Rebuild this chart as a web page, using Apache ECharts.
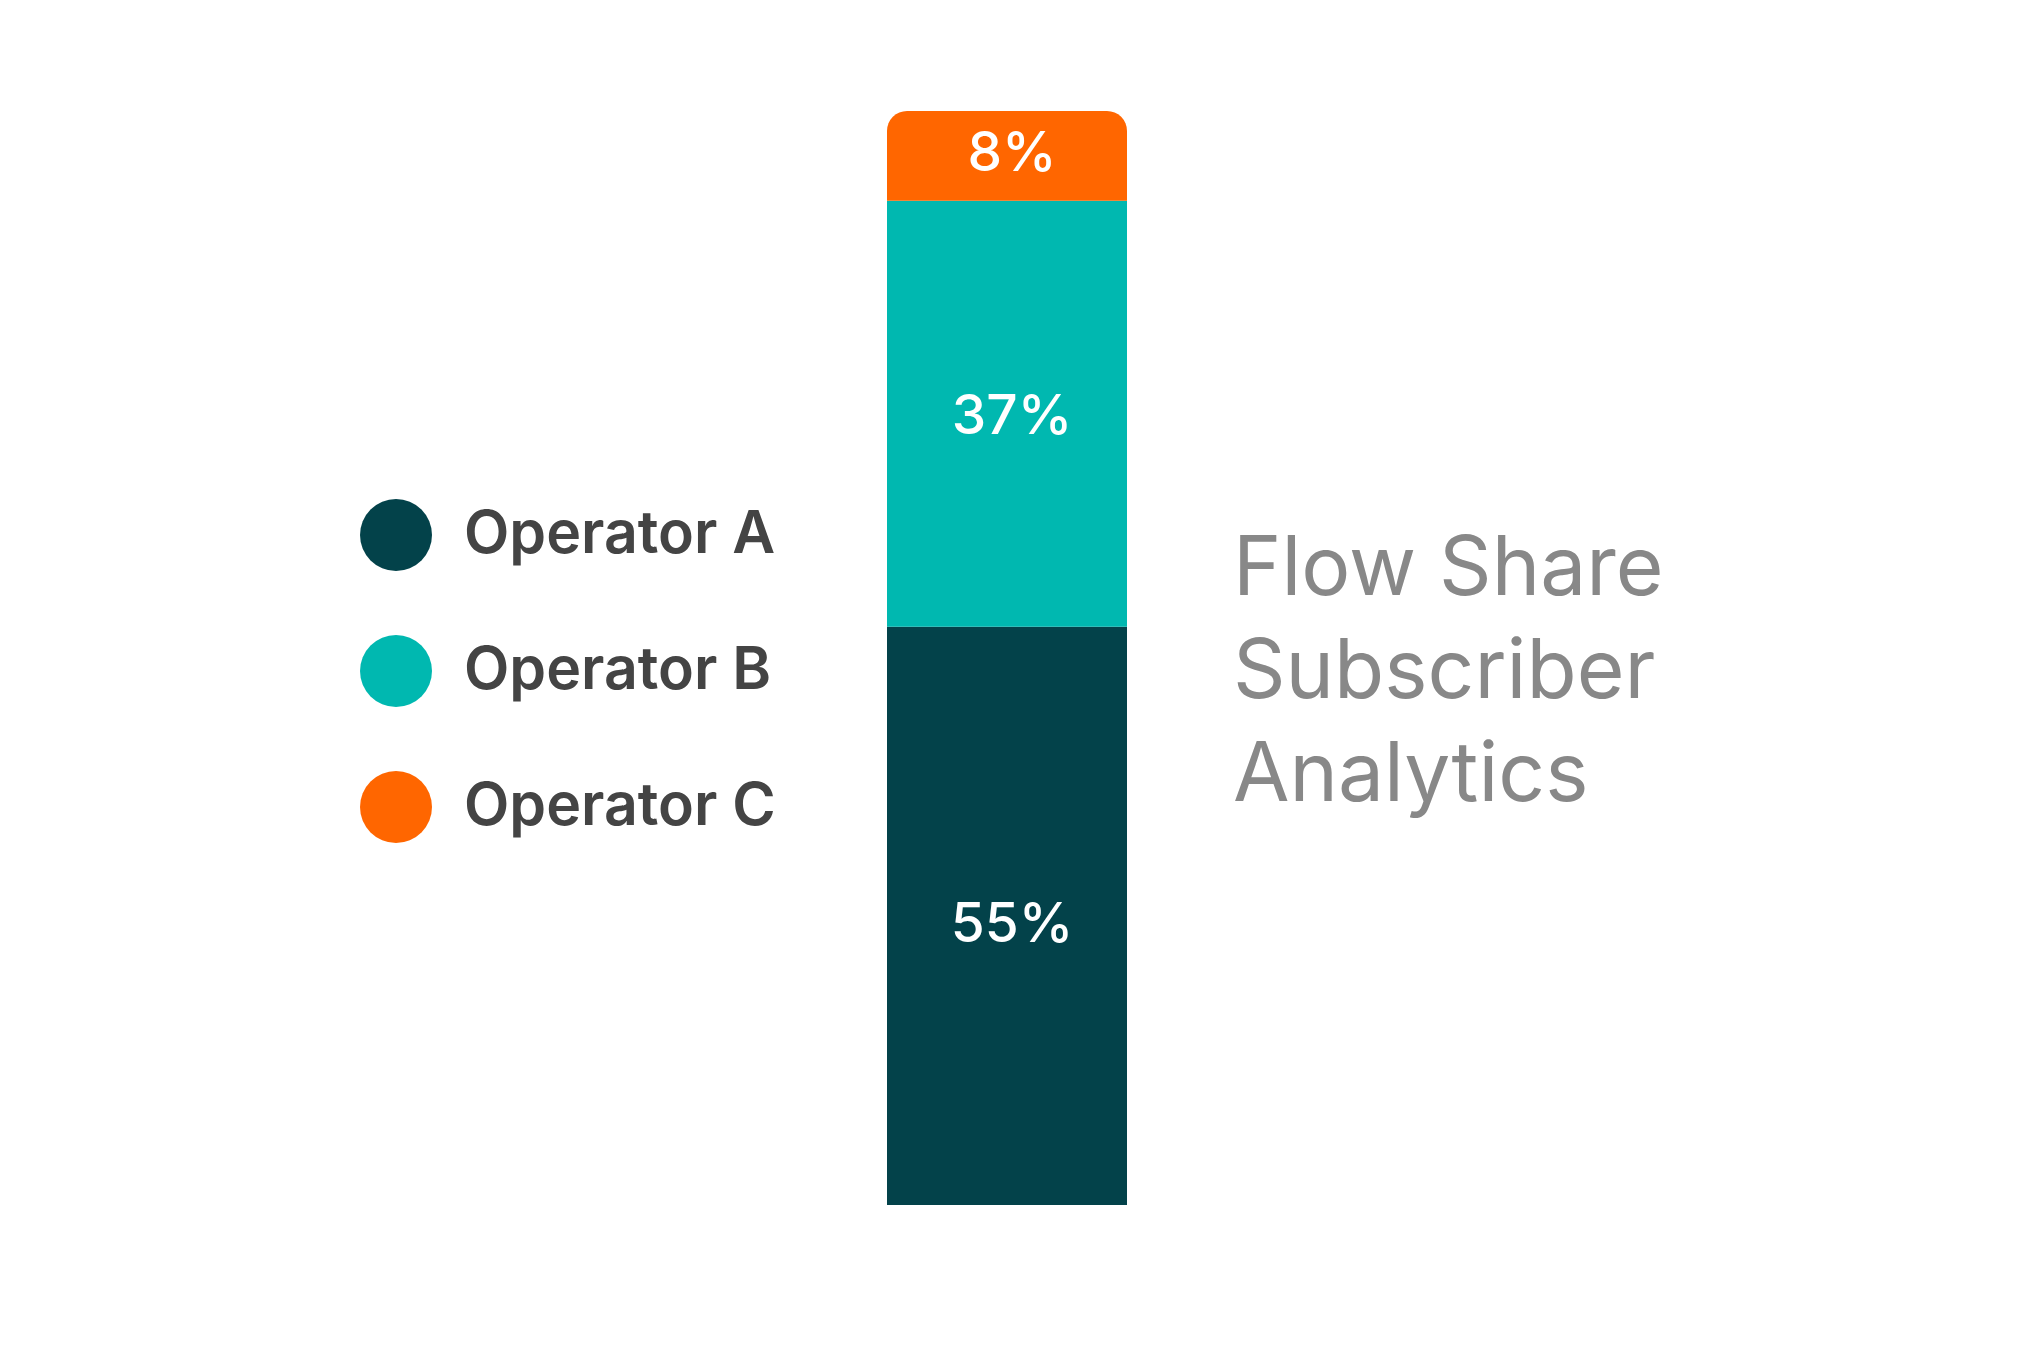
<!DOCTYPE html>
<html>
<head>
<meta charset="utf-8">
<script src="https://cdn.jsdelivr.net/npm/echarts@6/dist/echarts.min.js"></script>
<style>html,body{margin:0;padding:0;background:#fff;}#c{width:2034px;height:1354px;}</style>
</head>
<body>
<div id="c"></div>
<script>
// Data
const categories = ['Flow Share'];
const seriesNames = ['Operator A', 'Operator B', 'Operator C'];
// segment sizes as drawn (share of bar height)
const operatorA = [52.8];
const operatorB = [38.9];
const operatorC = [8.2];
// printed labels
const labelsA = ['55%'];
const labelsB = ['37%'];
const labelsC = ['8%'];
const titleLines = ['Flow Share', 'Subscriber', 'Analytics'];

const colors = ['#03424A', '#00B8B0', '#FF6600'];
const FONT = 'Inter, "Noto Sans", sans-serif';

const chart = echarts.init(document.getElementById('c'), null, {renderer: 'canvas'});

function mkSeries(name, data, labels, color, radius, offset) {
  return {
    name: name,
    type: 'bar',
    stack: 'total',
    data: data,
    barWidth: '100%',
    itemStyle: {color: color, borderRadius: radius},
    label: {
      show: true,
      position: 'inside',
      offset: offset,
      formatter: p => labels[p.dataIndex],
      color: '#ffffff',
      fontFamily: FONT,
      fontWeight: 500,
      fontSize: 55
    },
    emphasis: {disabled: true}
  };
}

chart.setOption({
  animation: false,
  backgroundColor: '#ffffff',
  title: {
    text: titleLines.join('\n'),
    left: 1233,
    top: 519,
    padding: 0,
    textStyle: {
      fontFamily: FONT,
      fontWeight: 'normal',
      fontSize: 82,
      lineHeight: 103,
      color: '#888888'
    }
  },
  legend: {
    data: seriesNames,
    orient: 'vertical',
    left: 360,
    top: 499,
    padding: 0,
    icon: 'circle',
    itemWidth: 72,
    itemHeight: 72,
    itemGap: 64,
    selectedMode: false,
    textStyle: {
      fontFamily: FONT,
      fontWeight: 600,
      fontSize: 59,
      color: '#444444',
      padding: [10, 0, 0, 27]
    }
  },
  grid: {left: 887, width: 240, top: 111, bottom: 149, containLabel: false},
  xAxis: {type: 'category', data: categories, show: false},
  yAxis: {type: 'value', min: 0, max: 'dataMax', show: false},
  series: [
    mkSeries(seriesNames[0], operatorA, labelsA, colors[0], 0, [5, 10]),
    mkSeries(seriesNames[1], operatorB, labelsB, colors[1], 0, [5, 4]),
    mkSeries(seriesNames[2], operatorC, labelsC, colors[2], [20, 20, 0, 0], [5, -1])
  ]
});
</script>
</body>
</html>
